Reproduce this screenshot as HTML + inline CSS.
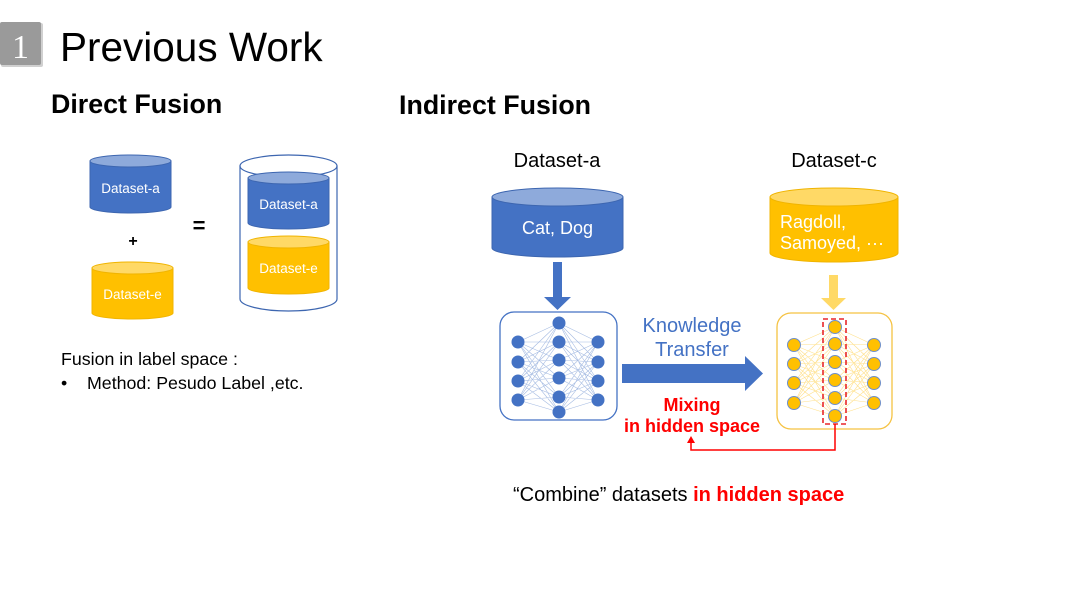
<!DOCTYPE html>
<html><head><meta charset="utf-8"><style>
html,body{margin:0;padding:0;background:#fff;}
svg{display:block;font-family:"Liberation Sans",sans-serif;}
</style></head><body>
<svg width="1080" height="608" viewBox="0 0 1080 608" xmlns="http://www.w3.org/2000/svg">
<rect width="1080" height="608" fill="#fff"/>
<rect x="1" y="23" width="42" height="44" fill="#d0d0d0" rx="2"/>
<rect x="0" y="22" width="41" height="43" fill="#9a9a9a" rx="2"/>
<text x="20.5" y="58" text-anchor="middle" font-family="Liberation Serif,serif" font-size="34" fill="#fff">1</text>
<text x="60" y="61" font-size="40.5" fill="#000">Previous Work</text>
<text x="51" y="113" font-size="26.8" font-weight="bold" fill="#000">Direct Fusion</text>
<text x="399" y="114" font-size="26.8" font-weight="bold" fill="#000">Indirect Fusion</text>

<g>
<path d="M90 161 V207 A40.5 6 0 0 0 171 207 V161 Z" fill="#4472c4" stroke="#3d66b0" stroke-width="1"/>
<ellipse cx="130.5" cy="161" rx="40.5" ry="6" fill="#8eaadb" stroke="#3d66b0" stroke-width="1"/>
<text x="130.5" y="193" text-anchor="middle" font-size="13.5" fill="#fff">Dataset-a</text>
</g>
<text x="133" y="246" text-anchor="middle" font-size="16" font-weight="bold">+</text>
<g>
<path d="M92 268 V313 A40.5 6 0 0 0 173 313 V268 Z" fill="#ffc000" stroke="#f0b400" stroke-width="1"/>
<ellipse cx="132.5" cy="268" rx="40.5" ry="6" fill="#ffd966" stroke="#f0b400" stroke-width="1"/>
<text x="132.5" y="299" text-anchor="middle" font-size="13.5" fill="#fff">Dataset-e</text>
</g>
<text x="199" y="233" text-anchor="middle" font-size="22" font-weight="bold">=</text>
<path d="M240 166 V299 A48.5 12 0 0 0 337 299 V166" fill="none" stroke="#3d66b0" stroke-width="1.2"/>
<ellipse cx="288.5" cy="166" rx="48.5" ry="11" fill="none" stroke="#3d66b0" stroke-width="1.2"/>
<g>
<path d="M248 178 V223 A40.5 6 0 0 0 329 223 V178 Z" fill="#4472c4" stroke="#3d66b0" stroke-width="1"/>
<ellipse cx="288.5" cy="178" rx="40.5" ry="6" fill="#8eaadb" stroke="#3d66b0" stroke-width="1"/>
<text x="288.5" y="209" text-anchor="middle" font-size="13.5" fill="#fff">Dataset-a</text>
</g>
<g>
<path d="M248 242 V288 A40.5 6 0 0 0 329 288 V242 Z" fill="#ffc000" stroke="#f0b400" stroke-width="1"/>
<ellipse cx="288.5" cy="242" rx="40.5" ry="6" fill="#ffd966" stroke="#f0b400" stroke-width="1"/>
<text x="288.5" y="273" text-anchor="middle" font-size="13.5" fill="#fff">Dataset-e</text>
</g>
<text x="61" y="365" font-size="17.8">Fusion in label space :</text>
<text x="61" y="389" font-size="17.8">•</text>
<text x="87" y="389" font-size="17.8">Method: Pesudo Label ,etc.</text>

<text x="557" y="167" text-anchor="middle" font-size="20">Dataset-a</text>
<text x="834" y="167" text-anchor="middle" font-size="20">Dataset-c</text>
<path d="M492 197 V248 A65.5 9 0 0 0 623 248 V197 Z" fill="#4472c4" stroke="#3d66b0"/>
<ellipse cx="557.5" cy="197" rx="65.5" ry="9" fill="#8eaadb" stroke="#3d66b0"/>
<text x="557.5" y="234" text-anchor="middle" font-size="18" fill="#fff">Cat, Dog</text>
<path d="M770 197 V253 A64 9 0 0 0 898 253 V197 Z" fill="#ffc000" stroke="#f0b400"/>
<ellipse cx="834" cy="197" rx="64" ry="9" fill="#ffd966" stroke="#f0b400"/>
<text x="780" y="228" font-size="18" fill="#fff">Ragdoll,</text>
<text x="780" y="249" font-size="18" fill="#fff">Samoyed, ···</text>

<path d="M553 262 H562 V297 H571 L557.5 310 L544 297 H553 Z" fill="#4472c4"/>
<path d="M829 275 H838 V298 H846 L833.5 310 L821 298 H829 Z" fill="#ffd966"/>

<rect x="500" y="312" width="117" height="108" rx="14" fill="#fff" stroke="#4472c4" stroke-width="1.3"/>
<g stroke="#8eaadb" stroke-width="0.6" fill="none" opacity="0.8">
<path d="M518 342L559 323L518 362M518 381L559 323L518 400M598 342L559 323L598 362M598 381L559 323L598 400
M518 342L559 342L518 362M518 381L559 342L518 400M598 342L559 342L598 362M598 381L559 342L598 400
M518 342L559 360L518 362M518 381L559 360L518 400M598 342L559 360L598 362M598 381L559 360L598 400
M518 342L559 378L518 362M518 381L559 378L518 400M598 342L559 378L598 362M598 381L559 378L598 400
M518 342L559 397L518 362M518 381L559 397L518 400M598 342L559 397L598 362M598 381L559 397L598 400
M518 342L559 412L518 362M518 381L559 412L518 400M598 342L559 412L598 362M598 381L559 412L598 400"/>
</g>
<g fill="#4472c4">
<circle cx="518" cy="342" r="6.5"/><circle cx="518" cy="362" r="6.5"/><circle cx="518" cy="381" r="6.5"/><circle cx="518" cy="400" r="6.5"/>
<circle cx="559" cy="323" r="6.5"/><circle cx="559" cy="342" r="6.5"/><circle cx="559" cy="360" r="6.5"/><circle cx="559" cy="378" r="6.5"/><circle cx="559" cy="397" r="6.5"/><circle cx="559" cy="412" r="6.5"/>
<circle cx="598" cy="342" r="6.5"/><circle cx="598" cy="362" r="6.5"/><circle cx="598" cy="381" r="6.5"/><circle cx="598" cy="400" r="6.5"/>
</g>

<path d="M622 364 H745 V356 L763 373.5 L745 391 V383 H622 Z" fill="#4472c4"/>
<text x="692" y="332" text-anchor="middle" font-size="20" fill="#4472c4">Knowledge</text>
<text x="692" y="356" text-anchor="middle" font-size="20" fill="#4472c4">Transfer</text>
<text x="692" y="411" text-anchor="middle" font-size="18" font-weight="bold" fill="#ff0000">Mixing</text>
<text x="692" y="432" text-anchor="middle" font-size="18" font-weight="bold" fill="#ff0000">in hidden space</text>

<rect x="777" y="313" width="115" height="116" rx="14" fill="#fff" stroke="#f5c242" stroke-width="1.3"/>
<g stroke="#ffe08a" stroke-width="0.6" fill="none">
<path d="M794 345L835 327L794 364M794 383L835 327L794 403M874 345L835 327L874 364M874 383L835 327L874 403
M794 345L835 344L794 364M794 383L835 344L794 403M874 345L835 344L874 364M874 383L835 344L874 403
M794 345L835 362L794 364M794 383L835 362L794 403M874 345L835 362L874 364M874 383L835 362L874 403
M794 345L835 380L794 364M794 383L835 380L794 403M874 345L835 380L874 364M874 383L835 380L874 403
M794 345L835 398L794 364M794 383L835 398L794 403M874 345L835 398L874 364M874 383L835 398L874 403
M794 345L835 416L794 364M794 383L835 416L794 403M874 345L835 416L874 364M874 383L835 416L874 403"/>
</g>
<g fill="#ffc000" stroke="#6f8fc8" stroke-width="1">
<circle cx="794" cy="345" r="6.5"/><circle cx="794" cy="364" r="6.5"/><circle cx="794" cy="383" r="6.5"/><circle cx="794" cy="403" r="6.5"/>
<circle cx="835" cy="327" r="6.5"/><circle cx="835" cy="344" r="6.5"/><circle cx="835" cy="362" r="6.5"/><circle cx="835" cy="380" r="6.5"/><circle cx="835" cy="398" r="6.5"/><circle cx="835" cy="416" r="6.5"/>
<circle cx="874" cy="345" r="6.5"/><circle cx="874" cy="364" r="6.5"/><circle cx="874" cy="383" r="6.5"/><circle cx="874" cy="403" r="6.5"/>
</g>
<rect x="823" y="319" width="23" height="105" fill="none" stroke="#e8262b" stroke-width="1.6" stroke-dasharray="5,3"/>
<path d="M835 424 V450 H691 V442" fill="none" stroke="#ff0000" stroke-width="1.5"/>
<path d="M687 443 L691 436 L695 443 Z" fill="#ff0000"/>

<text x="513" y="501" font-size="20">“Combine” datasets <tspan fill="#ff0000" font-weight="bold">in hidden space</tspan></text>
</svg>
</body></html>
